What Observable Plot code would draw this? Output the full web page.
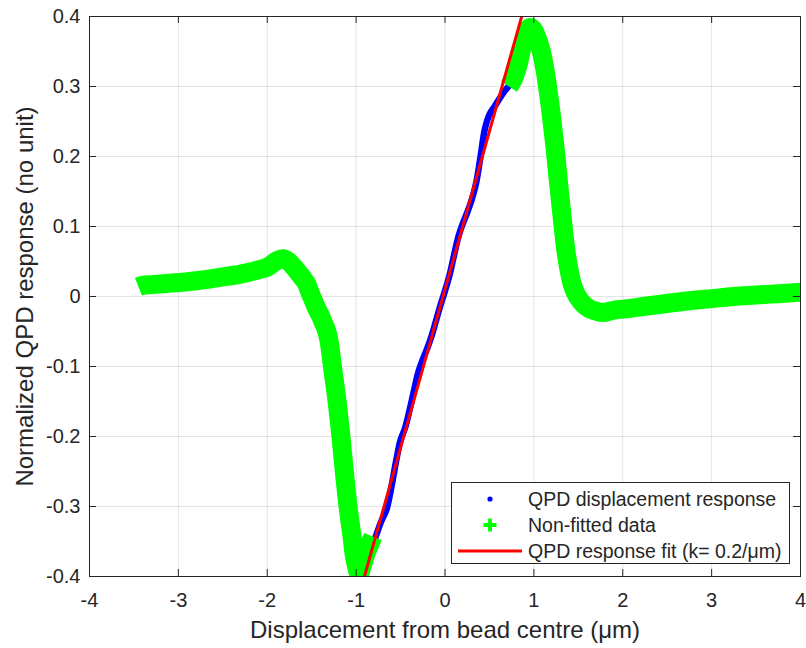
<!DOCTYPE html>
<html>
<head>
<meta charset="utf-8">
<script src="https://cdn.jsdelivr.net/npm/d3@7"></script>
<script src="https://cdn.jsdelivr.net/npm/@observablehq/plot@0.6"></script>
<style>
  html, body { margin: 0; padding: 0; background: #fff; }
  #wrap { position: relative; width: 806px; height: 648px; font-family: "Liberation Sans", Arial, sans-serif; color: #262626; }
  #legend { position: absolute; left: 451px; top: 482px; width: 337px; height: 80px; border: 1px solid #262626; background: #fff; }
  .row { position: absolute; left: 0; height: 26px; width: 100%; display: flex; align-items: center; font-size: 19.5px; white-space: nowrap; }
  .row svg { width: 76px; height: 26px; flex: none; }
</style>
</head>
<body>
<div id="wrap"></div>
<script>
// Fitted region of the QPD scan (blue dots)
const fittedX = [-0.86, -0.82, -0.78, -0.72, -0.66, -0.60, -0.55, -0.50, -0.45, -0.40, -0.35, -0.30, -0.25, -0.20, -0.15, -0.10, -0.05, 0.00, 0.05, 0.10, 0.15, 0.20, 0.25, 0.30, 0.35, 0.40, 0.45, 0.50, 0.55, 0.60, 0.65, 0.70, 0.76];
const fittedY = [-0.370, -0.355, -0.343, -0.322, -0.305, -0.270, -0.235, -0.205, -0.188, -0.163, -0.135, -0.108, -0.090, -0.074, -0.056, -0.034, -0.012, 0.008, 0.030, 0.058, 0.085, 0.104, 0.120, 0.138, 0.162, 0.200, 0.240, 0.260, 0.270, 0.280, 0.290, 0.298, 0.306];

// Non-fitted data, left of the linear range (green)
const leftX = [-3.45, -3.40, -3.30, -3.10, -2.90, -2.70, -2.50, -2.30, -2.10, -2.00, -1.94, -1.88, -1.82, -1.76, -1.70, -1.65, -1.60, -1.56, -1.52, -1.48, -1.44, -1.40, -1.37, -1.34, -1.31, -1.29, -1.27, -1.22, -1.17, -1.13, -1.09, -1.05, -1.02, -0.99, -0.965, -0.94, -0.91, -0.88, -0.85, -0.81];
const leftY = [0.014, 0.016, 0.017, 0.019, 0.021, 0.024, 0.028, 0.032, 0.038, 0.042, 0.047, 0.052, 0.054, 0.050, 0.042, 0.034, 0.026, 0.019, 0.006, -0.006, -0.018, -0.028, -0.037, -0.046, -0.060, -0.076, -0.097, -0.144, -0.201, -0.254, -0.301, -0.339, -0.370, -0.388, -0.397, -0.388, -0.376, -0.364, -0.355, -0.343];

// Non-fitted data, right of the linear range (green)
const rightX = [0.72, 0.77, 0.82, 0.87, 0.91, 0.95, 0.99, 1.04, 1.08, 1.13, 1.17, 1.20, 1.24, 1.27, 1.30, 1.33, 1.36, 1.40, 1.44, 1.49, 1.55, 1.62, 1.70, 1.77, 1.85, 1.92, 2.00, 2.25, 2.50, 2.75, 3.00, 3.25, 3.50, 3.75, 4.00];
const rightY = [0.300, 0.311, 0.330, 0.358, 0.374, 0.384, 0.382, 0.368, 0.352, 0.320, 0.285, 0.255, 0.210, 0.172, 0.135, 0.099, 0.066, 0.035, 0.014, 0.000, -0.010, -0.017, -0.021, -0.023, -0.021, -0.019, -0.018, -0.014, -0.010, -0.006, -0.003, 0.000, 0.002, 0.004, 0.006];

// Linear fit of the response
const fitSlope = 0.452;
const fitIntercept = 0.010;
const fitSpan = [-0.95, 0.90];

// Axis ticks
const xTicks = [-4, -3, -2, -1, 0, 1, 2, 3, 4];
const yTicks = [-0.4, -0.3, -0.2, -0.1, 0, 0.1, 0.2, 0.3, 0.4];

const fitted = fittedX.map((x, i) => ({x, y: fittedY[i]}));
const left = leftX.map((x, i) => ({x, y: leftY[i]}));
const right = rightX.map((x, i) => ({x, y: rightY[i]}));
const fit = fitSpan.map(x => ({x, y: fitSlope * x + fitIntercept}));

const fmt = d => (d === 0 ? "0" : String(d)).replace("\u2212", "-");
const ink = "#262626";
const tickLenX = 0.079; // ~7px in x units
const tickLenY = 0.010; // ~7px in y units
const band = {stroke: "#00ff00", strokeWidth: 19, strokeLinejoin: "round", strokeLinecap: "butt", curve: "catmull-rom", clip: true};

const chart = Plot.plot({
  width: 806,
  height: 648,
  marginLeft: 89,
  marginRight: 6,
  marginTop: 16,
  marginBottom: 72,
  style: {fontFamily: "'Liberation Sans', Arial, sans-serif", color: ink, background: "#fff", overflow: "visible"},
  x: {domain: [-4, 4], label: null},
  y: {domain: [-0.4, 0.4], label: null},
  marks: [
    Plot.gridX(xTicks, {stroke: ink, strokeOpacity: 0.12}),
    Plot.gridY(yTicks, {stroke: ink, strokeOpacity: 0.12}),
    Plot.line(fitted, {x: "x", y: "y", stroke: "#0000ff", strokeWidth: 6.5, strokeLinejoin: "round", strokeLinecap: "round", curve: "catmull-rom", clip: true}),
    Plot.line(left, {x: "x", y: "y", ...band}),
    Plot.line(right, {x: "x", y: "y", ...band}),
    Plot.line(fit, {x: "x", y: "y", stroke: "#ff0000", strokeWidth: 3, clip: true}),
    Plot.frame({stroke: ink, strokeWidth: 1}),
    // inward tick marks on all four sides
    Plot.ruleX(xTicks, {y1: -0.4, y2: -0.4 + tickLenY, stroke: ink}),
    Plot.ruleX(xTicks, {y1: 0.4, y2: 0.4 - tickLenY, stroke: ink}),
    Plot.ruleY(yTicks, {x1: -4, x2: -4 + tickLenX, stroke: ink}),
    Plot.ruleY(yTicks, {x1: 4, x2: 4 - tickLenX, stroke: ink}),
    Plot.axisX(xTicks, {tickSize: 0, tickPadding: 16, tickFormat: fmt, fontSize: 20, fill: ink, label: null}),
    Plot.axisY(yTicks, {tickSize: 0, tickPadding: 9, tickFormat: fmt, fontSize: 20, fill: ink, label: null}),
    Plot.text(["Displacement from bead centre (\u03bcm)"], {frameAnchor: "bottom", dy: 54, fontSize: 24, fill: ink, lineAnchor: "middle", textAnchor: "middle"}),
    Plot.text(["Normalized QPD response (no unit)"], {frameAnchor: "left", dx: -64, rotate: -90, fontSize: 24, fill: ink, lineAnchor: "middle", textAnchor: "middle"})
  ]
});

const wrap = document.getElementById("wrap");
wrap.appendChild(chart);

// Legend box in the lower right of the axes
const legend = document.createElement("div");
legend.id = "legend";
const rows = [
  {label: "QPD displacement response", sym: '<circle cx="38" cy="13" r="2.6" fill="#0000ff"/>'},
  {label: "Non-fitted data", sym: '<path d="M31.5,13H44.5M38,6.5V19.5" stroke="#00ff00" stroke-width="3.8"/>'},
  {label: "QPD response fit (k= 0.2/\u03bcm)", sym: '<line x1="6" x2="70" y1="13" y2="13" stroke="#ff0000" stroke-width="3"/>'}
];
rows.forEach((r, i) => {
  const row = document.createElement("div");
  row.className = "row";
  row.style.top = (3 + i * 26) + "px";
  row.innerHTML = `<svg viewBox="0 0 76 26">${r.sym}</svg><span>${r.label}</span>`;
  legend.appendChild(row);
});
wrap.appendChild(legend);
</script>
</body>
</html>
